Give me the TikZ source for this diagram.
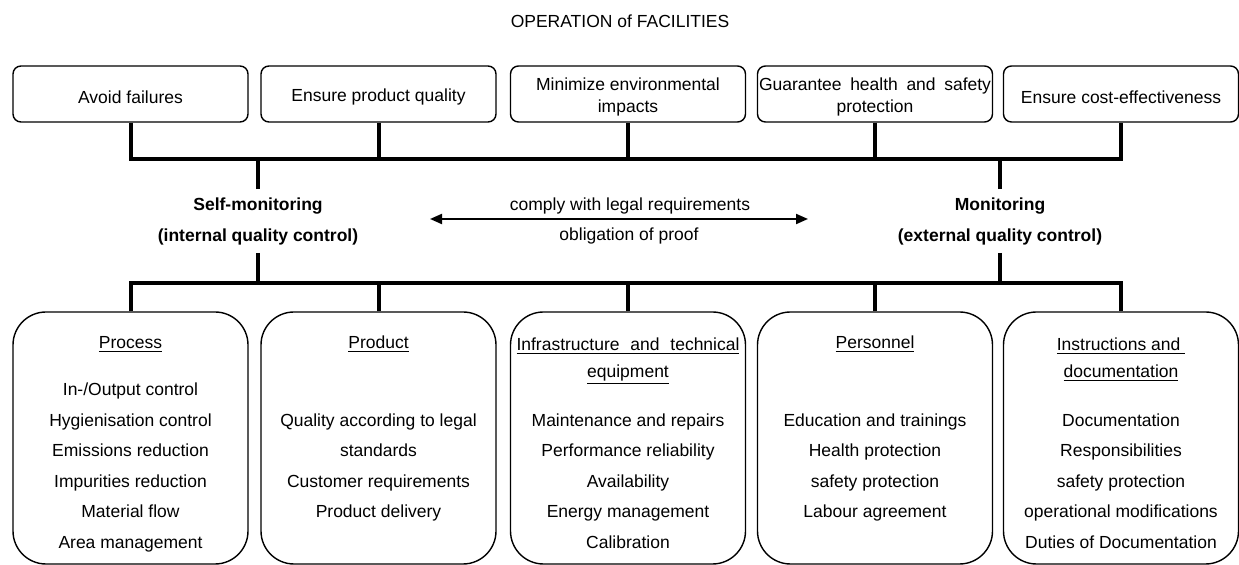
\documentclass[tikz,border=0pt]{standalone}
\usepackage{fontspec}
\setmainfont{Liberation Sans}
\usetikzlibrary{arrows.meta}
\newcommand{\figfont}{\fontsize{8.75pt}{11.25pt}\selectfont}

\tikzset{
  goal/.style={draw, rounded corners=4pt, line width=0.7pt, minimum width=117.5pt, minimum height=28pt, inner sep=0pt},
  goaltext/.style={align=center, inner sep=0pt},
  area/.style={draw, rounded corners=16.5pt, line width=0.7pt, minimum width=117.5pt, minimum height=126pt, inner sep=0pt},
  bus/.style={line width=2pt},
  ctrl/.style={font=\fontsize{8.75pt}{15.5pt}\selectfont\bfseries, align=center, minimum height=31.5pt, inner sep=0pt},
  txt/.style={anchor=mid, inner sep=0pt},
}

\begin{document}
\begin{tikzpicture}[x=0.5pt, y=-0.5pt, font=\figfont]
  \useasboundingbox (0,0) rectangle (1239,565);

  % Title
  \node[txt] (title) at (620,22) {OPERATION of FACILITIES};

  % Goals
  \foreach \x/\t [count=\i] in {130.5/Avoid failures, 378.5/Ensure product quality,
      628/{Minimize environmental\\impacts},
      875/{\makebox[116pt][s]{Guarantee\hfill health\hfill and\hfill safety}\\protection},
      1121/Ensure cost-effectiveness}
  {
    \node[goal] (g\i) at (\x,94) {};
    \node[goaltext] (gt\i) at (\x,97) {\t};
  }

  % Self-monitoring and monitoring
  \node[ctrl] (self) at (258,221) {Self-monitoring\\(internal quality control)};
  \node[ctrl] (ext) at (1000,221) {Monitoring\\(external quality control)};

  % Upper bus
  \coordinate (bus1) at (0,159);
  \draw[bus] (g1.south) |- (bus1 -| g5.south) -- (g5.south);
  \foreach \i in {2,3,4}
    \draw[bus] (g\i.south) -- (g\i.south |- bus1);
  \draw[bus] (self.north) -- (self.north |- bus1);
  \draw[bus] (ext.north) -- (ext.north |- bus1);

  % Legal requirements arrow
  \coordinate (legL) at (430,219);
  \coordinate (legR) at (808,219);
  \draw[{Triangle[length=6pt,width=5pt]}-{Triangle[length=6pt,width=5pt]}, line width=1pt] (legL) -- (legR);
  \node[txt] (comply) at (630,205) {comply with legal requirements};
  \node[txt] (proof) at (629,235) {obligation of proof};

  % Areas
  \foreach \x [count=\i] in {130.5,378.5,628,875,1121}
    \node[area] (a\i) at (\x,438) {};

  % Lower bus
  \coordinate (bus2) at (0,283);
  \draw[bus] (a1.north) |- (bus2 -| a5.north) -- (a5.north);
  \foreach \i in {2,3,4}
    \draw[bus] (a\i.north) -- (a\i.north |- bus2);
  \draw[bus] (self.south) -- (self.south |- bus2);
  \draw[bus] (ext.south) -- (ext.south |- bus2);

  % Area headings
  \node[txt] (h1) at (130.5,343) {\underline{Process}};
  \node[txt] (h2) at (378.5,343) {\underline{Product}};
  \node[txt] (h3) at (628,345) {\underline{\makebox[111.5pt][s]{Infrastructure\hfill and\hfill technical}}};
  \node[txt] (h3b) at (628,372) {\underline{equipment}};
  \node[txt] (h4) at (875,343) {\underline{Personnel}};
  \node[txt] (h5) at (1121,345) {\underline{Instructions and\ }};
  \node[txt] (h5b) at (1121,372) {\underline{documentation}};

  % Area items
  \foreach \t [count=\j] in {In-/Output control, Hygienisation control, Emissions reduction,
      Impurities reduction, Material flow, Area management}
    \node[txt] (p1-\j) at (130.5,{360+30.5*\j}) {\t};
  \foreach \t [count=\j] in {Quality according to legal, standards, Customer requirements, Product delivery}
    \node[txt] (p2-\j) at (378.5,{390.5+30.5*\j}) {\t};
  \foreach \t [count=\j] in {Maintenance and repairs, Performance reliability, Availability,
      Energy management, Calibration}
    \node[txt] (p3-\j) at (628,{390.5+30.5*\j}) {\t};
  \foreach \t [count=\j] in {Education and trainings, Health protection, safety protection, Labour agreement}
    \node[txt] (p4-\j) at (875,{390.5+30.5*\j}) {\t};
  \foreach \t [count=\j] in {Documentation, Responsibilities, safety protection,
      operational modifications, Duties of Documentation}
    \node[txt] (p5-\j) at (1121,{390.5+30.5*\j}) {\t};

\end{tikzpicture}
\end{document}
